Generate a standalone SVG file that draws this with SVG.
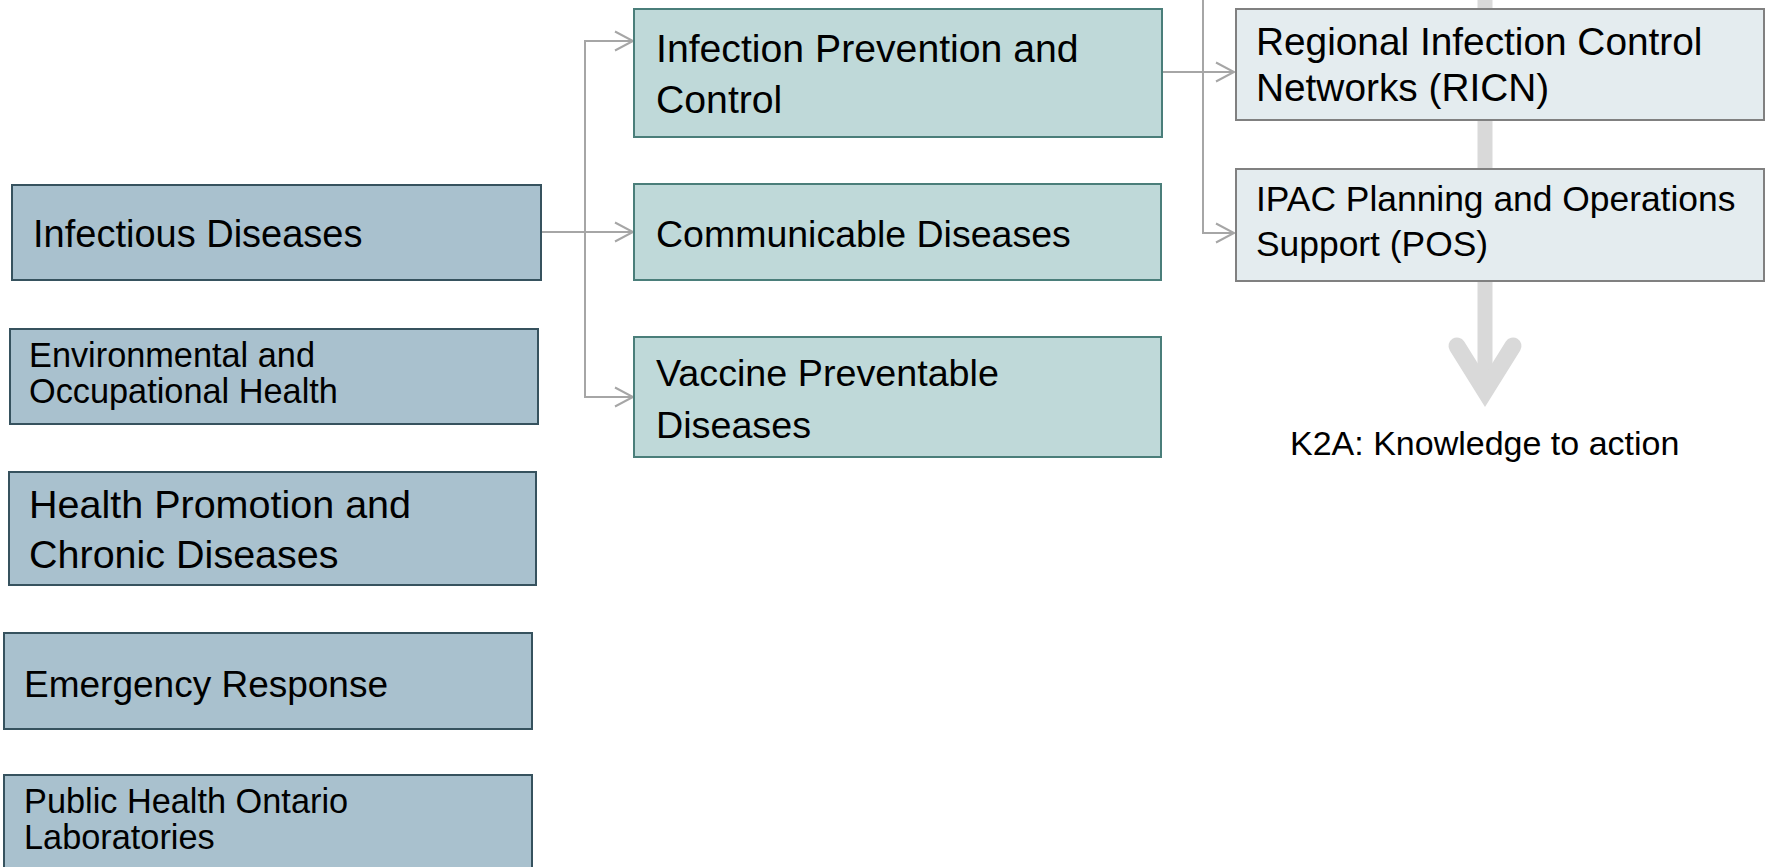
<svg xmlns="http://www.w3.org/2000/svg" width="1767" height="867" viewBox="0 0 1767 867">
  <style>
    .lbl { font-family: "Liberation Sans", Arial, sans-serif; fill: #000000; }
    .big { font-size: 38px; }
    .small { font-size: 34px; }
    .lbox { fill: #A9C1CE; stroke: #36525E; stroke-width: 2; }
    .mbox { fill: #BFD9D9; stroke: #4A7E7A; stroke-width: 2; }
    .rbox { fill: #E4ECEF; stroke: #808080; stroke-width: 2; }
    .conn { fill: none; stroke: #A6A6A6; stroke-width: 2; }
    .k2a { fill: none; stroke: #D9D9D9; }
  </style>
  <defs>
    <marker id="open" markerUnits="userSpaceOnUse" markerWidth="24" markerHeight="24" refX="20" refY="11" orient="auto">
      <path d="M2,1.5 L20,11 L2,20.5" fill="none" stroke="#A6A6A6" stroke-width="2"/>
    </marker>
  </defs>
  <rect width="1767" height="867" fill="#FFFFFF"/>

  <g id="connectors">
    <path class="k2a" d="M1485,0 V385" stroke-width="15"/>
    <polyline class="k2a" points="1457,346 1485,391 1513,346" stroke-width="17" stroke-linecap="round" stroke-linejoin="miter"/>
    <path class="conn" d="M541,232 H585 V41 H633" marker-end="url(#open)"/>
    <path class="conn" d="M541,232 H633" marker-end="url(#open)"/>
    <path class="conn" d="M541,232 H585 V397 H633" marker-end="url(#open)"/>
    <path class="conn" d="M1162,72 H1234" marker-end="url(#open)"/>
    <path class="conn" d="M1203,0 V233 H1234" marker-end="url(#open)"/>
  </g>

  <g id="infectious-diseases">
    <rect class="lbox" x="12" y="185" width="529" height="95"/>
    <text class="lbl big" x="33" y="247">Infectious Diseases</text>
  </g>
  <g id="environmental-occupational-health">
    <rect class="lbox" x="10" y="329" width="528" height="95"/>
    <text class="lbl small" x="29" y="367" style="font-size:34.3px">Environmental and</text>
    <text class="lbl small" x="29" y="403" style="font-size:34.3px">Occupational Health</text>
  </g>
  <g id="health-promotion">
    <rect class="lbox" x="9" y="472" width="527" height="113"/>
    <text class="lbl big" x="29" y="518" style="font-size:39.5px">Health Promotion and</text>
    <text class="lbl big" x="29" y="568" style="font-size:39.5px">Chronic Diseases</text>
  </g>
  <g id="emergency-response">
    <rect class="lbox" x="4" y="633" width="528" height="96"/>
    <text class="lbl big" x="24" y="697" style="font-size:37px">Emergency Response</text>
  </g>
  <g id="public-health-ontario-laboratories">
    <rect class="lbox" x="4" y="775" width="528" height="100"/>
    <text class="lbl small" x="24" y="813" style="font-size:34.3px">Public Health Ontario</text>
    <text class="lbl small" x="24" y="849" style="font-size:34.3px">Laboratories</text>
  </g>

  <g id="infection-prevention-control">
    <rect class="mbox" x="634" y="9" width="528" height="128"/>
    <text class="lbl big" x="656" y="62" style="font-size:39.2px">Infection Prevention and</text>
    <text class="lbl big" x="656" y="113" style="font-size:39.2px">Control</text>
  </g>
  <g id="communicable-diseases">
    <rect class="mbox" x="634" y="184" width="527" height="96"/>
    <text class="lbl big" x="656" y="247" style="font-size:37.5px">Communicable Diseases</text>
  </g>
  <g id="vaccine-preventable-diseases">
    <rect class="mbox" x="634" y="337" width="527" height="120"/>
    <text class="lbl big" x="656" y="386" style="font-size:37.7px">Vaccine Preventable</text>
    <text class="lbl big" x="656" y="438" style="font-size:37.7px">Diseases</text>
  </g>

  <g id="ricn">
    <rect class="rbox" x="1236" y="9" width="528" height="111"/>
    <text class="lbl big" x="1256" y="55" style="font-size:38.8px">Regional Infection Control</text>
    <text class="lbl big" x="1256" y="101" style="font-size:38.8px">Networks (RICN)</text>
  </g>
  <g id="ipac-pos">
    <rect class="rbox" x="1236" y="169" width="528" height="112"/>
    <text class="lbl big" x="1256" y="211" style="font-size:35.4px">IPAC Planning and Operations</text>
    <text class="lbl big" x="1256" y="256" style="font-size:35.4px">Support (POS)</text>
  </g>

  <g id="k2a-label">
    <text class="lbl" x="1290" y="455" style="font-size:34px">K2A: Knowledge to action</text>
  </g>
</svg>
